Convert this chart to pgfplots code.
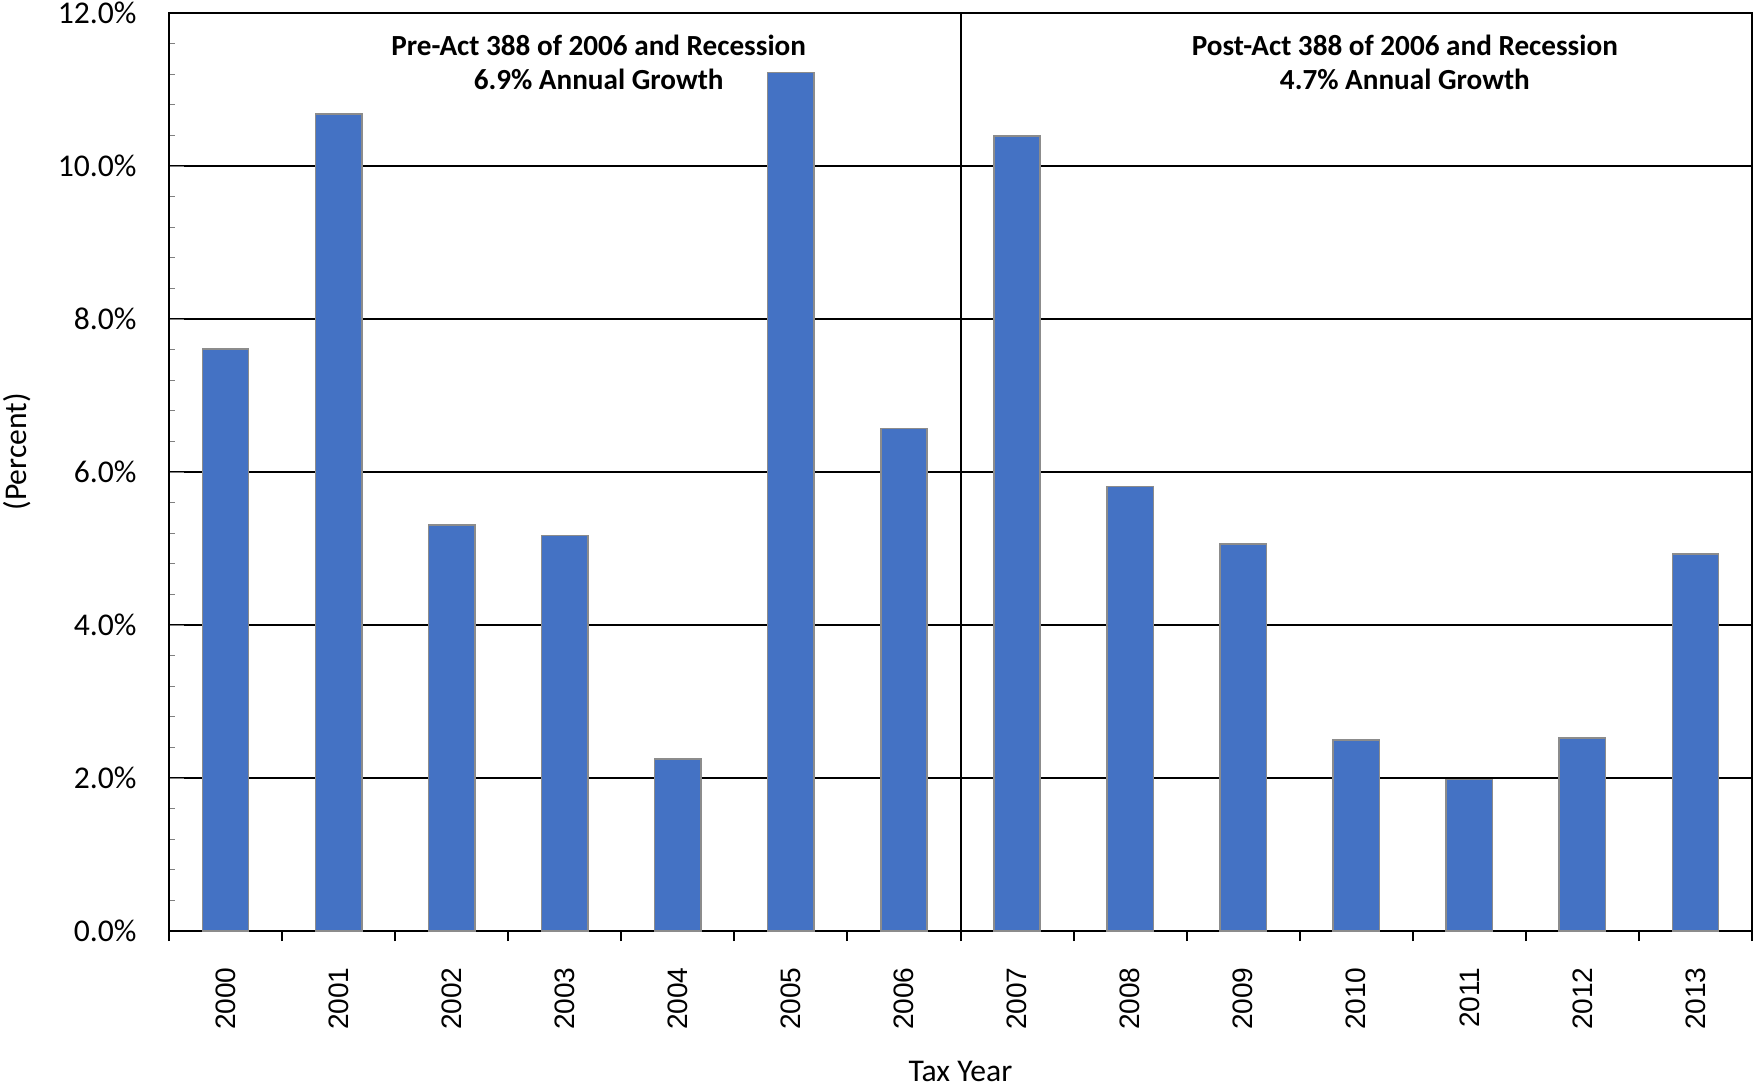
\documentclass[border=0pt]{standalone}
\usepackage{pgfplots}
\pgfplotsset{compat=1.18}
\usepackage{fontspec}
\setmainfont{Carlito}
\newfontfamily\arialf{Liberation Sans}
\definecolor{barblue}{HTML}{4472C4}
\definecolor{bargray}{HTML}{8C8C8C}

\pgfplotstableread{
x  val
0  7.61
1  10.68
2  5.31
3  5.17
4  2.25
5  11.22
6  6.57
7  10.39
8  5.81
9  5.06
10 2.50
11 1.98
12 2.52
13 4.93
}\growth

\begin{document}
\begin{tikzpicture}
\begin{axis}[
    scale only axis,
    width=158.3mm, height=91.8mm,
    xmin=-0.5, xmax=13.5,
    ymin=0, ymax=12,
    axis line style={line width=0.25mm},
    tick pos=left,
    xtick={0,...,13},
    xticklabels={2000,2001,2002,2003,2004,2005,2006,2007,2008,2009,2010,2011,2012,2013},
    xtick style={draw=none},
    xticklabel style={font=\arialf\fontsize{8}{10}\selectfont, rotate=90, anchor=east},
    xticklabel shift=2.4mm,
    extra x ticks={-0.5,0.5,...,13.5},
    extra x tick labels={},
    extra x tick style={tick align=outside, major tick length=1mm,
        xtick style={draw=black, line width=0.2mm}},
    ytick={0,2,...,12},
    minor y tick num=4,
    minor tick length=0.6mm,
    ymajorgrids,
    major grid style={black, line width=0.15mm},
    yticklabel={\pgfmathprintnumber[fixed,fixed zerofill,precision=1]{\tick}\%},
    /pgf/number format/assume math mode=true,
    yticklabel style={font=\fontsize{9}{10}\selectfont},
    yticklabel shift=2mm,
    clip=false,
]
\addplot[ybar, bar width=0.41, fill=barblue, draw=bargray, line width=0.15mm]
    table[x=x, y=val] {\growth};

\draw[line width=0.2mm] (axis cs:6.5,0) -- (axis cs:6.5,12);

\node[anchor=base, font=\bfseries\fontsize{8.3}{10}\selectfont] at (axis cs:3.30,11.45) {Pre-Act 388 of 2006 and Recession};
\node[anchor=base, font=\bfseries\fontsize{8.3}{10}\selectfont] at (axis cs:3.30,11.00) {6.9\% Annual Growth};
\node[anchor=base, font=\bfseries\fontsize{8.3}{10}\selectfont] at (axis cs:10.43,11.45) {Post-Act 388 of 2006 and Recession};
\node[anchor=base, font=\bfseries\fontsize{8.3}{10}\selectfont] at (axis cs:10.43,11.00) {4.7\% Annual Growth};

\node[rotate=90, font=\fontsize{9}{10}\selectfont] at ([xshift=-15.2mm]rel axis cs:0,0.522) {(Percent)};
\node[font=\fontsize{9}{10}\selectfont] at ([yshift=-14.0mm]rel axis cs:0.5,0) {Tax Year};

\coordinate (sw) at (rel axis cs:0,0);
\coordinate (ne) at (rel axis cs:1,1);
\end{axis}
\pgfresetboundingbox
\path ([xshift=-16.9mm,yshift=-15.6mm]sw) rectangle ([xshift=0.3mm,yshift=1.3mm]ne);
\end{tikzpicture}
\end{document}
